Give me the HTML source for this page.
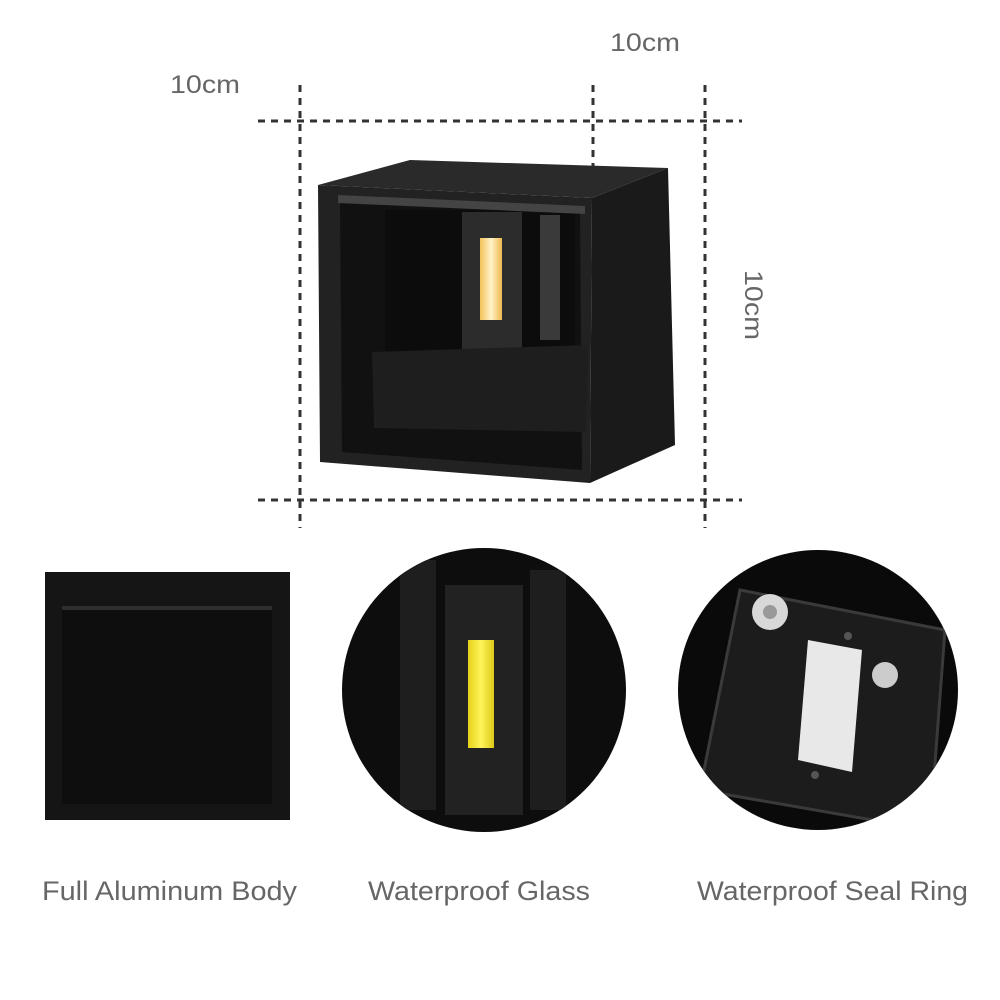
<!DOCTYPE html>
<html><head><meta charset="utf-8"><style>
html,body{margin:0;padding:0;background:#fff;}
svg{display:block}
text{font-family:"Liberation Sans",sans-serif;fill:#666}
</style></head><body>
<svg width="1000" height="1000" viewBox="0 0 1000 1000" xmlns="http://www.w3.org/2000/svg">
<defs>
<linearGradient id="led" x1="0" x2="1"><stop offset="0" stop-color="#f3c25a"/><stop offset="0.5" stop-color="#fff3c8"/><stop offset="1" stop-color="#f0b850"/></linearGradient>
<linearGradient id="led2" x1="0" x2="1"><stop offset="0" stop-color="#e6d21a"/><stop offset="0.5" stop-color="#fff45a"/><stop offset="1" stop-color="#dcc818"/></linearGradient>
<clipPath id="c2"><circle cx="484" cy="690" r="142"/></clipPath>
<clipPath id="c3"><circle cx="818" cy="690" r="140"/></clipPath>
</defs>
<text x="170" y="93" font-size="25" textLength="70" lengthAdjust="spacingAndGlyphs">10cm</text>
<text x="610" y="51" font-size="25" textLength="70" lengthAdjust="spacingAndGlyphs">10cm</text>
<text x="0" y="0" font-size="25" textLength="70" lengthAdjust="spacingAndGlyphs" transform="translate(745,270) rotate(90)">10cm</text>
<g stroke="#333" stroke-width="3" stroke-dasharray="7,6" fill="none">
<line x1="258" y1="121" x2="742" y2="121"/>
<line x1="258" y1="500" x2="742" y2="500"/>
<line x1="300" y1="85" x2="300" y2="528"/>
<line x1="593" y1="85" x2="593" y2="200"/>
<line x1="705" y1="85" x2="705" y2="528"/>
</g>
<polygon points="318,185 410,160 668,168 592,198" fill="#2a2a2a"/>
<polygon points="592,198 668,168 675,445 590,483" fill="#1a1a1a"/>
<polygon points="318,185 592,198 590,483 320,462" fill="#222"/>
<polygon points="340,200 580,210 582,470 342,452" fill="#111"/>
<rect x="385" y="210" width="190" height="150" fill="#0c0c0c"/>
<rect x="462" y="212" width="60" height="140" fill="#2c2c2c"/>
<rect x="480" y="238" width="22" height="82" fill="url(#led)"/>
<rect x="540" y="215" width="20" height="125" fill="#3a3a3a"/>
<polygon points="372,352 588,345 586,432 374,428" fill="#1e1e1e"/>
<polygon points="338,195 585,206 585,214 338,203" fill="#444"/>
<rect x="45" y="572" width="245" height="248" fill="#151515"/>
<rect x="62" y="608" width="210" height="196" fill="#0e0e0e"/>
<rect x="62" y="606" width="210" height="4" fill="#2e2e2e"/>
<circle cx="484" cy="690" r="142" fill="#0d0d0d"/>
<g clip-path="url(#c2)">
<rect x="400" y="560" width="36" height="250" fill="#1e1e1e"/>
<rect x="530" y="570" width="36" height="240" fill="#1e1e1e"/>
<rect x="445" y="585" width="78" height="230" fill="#222"/>
<rect x="468" y="640" width="26" height="108" fill="url(#led2)"/>
</g>
<circle cx="818" cy="690" r="140" fill="#0a0a0a"/>
<g clip-path="url(#c3)">
<polygon points="740,590 945,630 930,830 700,790" fill="#1c1c1c"/>
<polygon points="740,590 945,630 930,830 700,790" fill="none" stroke="#3a3a3a" stroke-width="3"/>
<circle cx="770" cy="612" r="18" fill="#d8d8d8"/>
<circle cx="770" cy="612" r="7" fill="#999"/>
<polygon points="808,640 862,650 852,772 798,760" fill="#e8e8e8"/>
<circle cx="885" cy="675" r="13" fill="#ccc"/>
<circle cx="848" cy="636" r="4" fill="#555"/>
<circle cx="815" cy="775" r="4" fill="#555"/>
</g>
<text x="42" y="900" font-size="27" textLength="255" lengthAdjust="spacingAndGlyphs">Full Aluminum Body</text>
<text x="368" y="900" font-size="27" textLength="222" lengthAdjust="spacingAndGlyphs">Waterproof Glass</text>
<text x="697" y="900" font-size="27" textLength="271" lengthAdjust="spacingAndGlyphs">Waterproof Seal Ring</text>
</svg>
</body></html>
